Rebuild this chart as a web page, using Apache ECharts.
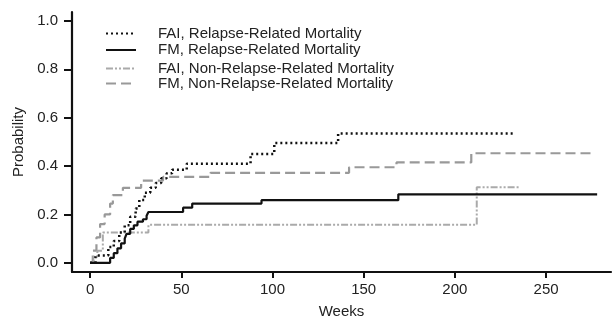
<!DOCTYPE html>
<html>
<head>
<meta charset="utf-8">
<script src="https://cdn.jsdelivr.net/npm/echarts@6/dist/echarts.min.js"></script>
<style>
  html, body { margin: 0; padding: 0; background: #fff; }
  #chart { width: 613px; height: 324px; }
</style>
</head>
<body>
<div id="chart"></div>
<script>
// series names
const names = [
    'FAI, Relapse-Related Mortality',
    'FM, Relapse-Related Mortality',
    'FAI, Non-Relapse-Related Mortality',
    'FM, Non-Relapse-Related Mortality'
]

// step curves: weeks where the level changes, and the new level
const faiRelWeeks = [0, 3, 10, 13, 16, 19, 22, 25, 27, 30, 33, 36, 39, 42, 45, 53, 88, 101, 136, 233]
const faiRelProb  = [0, 0.03, 0.065, 0.09, 0.125, 0.155, 0.19, 0.225, 0.26, 0.29, 0.31, 0.33, 0.35, 0.37, 0.385, 0.41, 0.45, 0.495, 0.535, 0.535]

const fmRelWeeks = [0, 11, 13, 15, 17, 19, 20, 22, 24, 26, 29, 31, 32, 51, 56, 94, 169, 278]
const fmRelProb  = [0, 0.02, 0.04, 0.06, 0.08, 0.1, 0.12, 0.14, 0.155, 0.17, 0.18, 0.195, 0.21, 0.228, 0.245, 0.259, 0.283, 0.283]

const faiNrmWeeks = [0, 2, 4, 7, 32, 212, 235]
const faiNrmProb  = [0, 0.025, 0.05, 0.125, 0.157, 0.312, 0.312]

const fmNrmWeeks = [0, 1.5, 3.5, 5.5, 8, 11, 12.5, 18, 28, 40, 66, 142, 168, 209, 277]
const fmNrmProb  = [0, 0.05, 0.105, 0.16, 0.2, 0.245, 0.28, 0.31, 0.34, 0.355, 0.372, 0.395, 0.415, 0.453, 0.453]

// tick labels
const xTicks = [0, 50, 100, 150, 200, 250]
const yTicks = [0, 0.2, 0.4, 0.6, 0.8, 1.0]

function pairs(w, p) {
    return w.map((v, i) => [v, p[i]])
}

const font = '"Liberation Sans", Arial, Helvetica, sans-serif'
const legendText = { fontFamily: font, fontSize: 15, color: '#222', padding: [0, 0, 0, 17] }

let myChart = echarts.init(document.getElementById('chart'))
let option = {
    animation: false,
    backgroundColor: '#fff',
    grid: { left: 72, right: 2, top: 12, bottom: 52 },
    legend: [
        {
            data: names.slice(0, 2),
            orient: 'vertical',
            left: 105, top: 21,
            padding: [5, 5, 5, 0],
            itemWidth: 30, itemHeight: 14, itemGap: 1.5,
            itemStyle: { opacity: 0 },
            textStyle: legendText
        },
        {
            data: names.slice(2, 4),
            orient: 'vertical',
            left: 105, top: 56,
            padding: [5, 5, 5, 0],
            itemWidth: 30, itemHeight: 14, itemGap: 0,
            itemStyle: { opacity: 0 },
            textStyle: legendText
        }
    ],
    xAxis: {
        type: 'value',
        min: -9.9, max: 285.6,
        name: 'Weeks',
        nameLocation: 'middle',
        nameGap: 32,
        nameTextStyle: { fontFamily: font, fontSize: 15, color: '#222' },
        axisLine: { onZero: false, lineStyle: { color: '#111', width: 2.2 } },
        axisTick: { customValues: xTicks, length: 6, lineStyle: { color: '#111', width: 2 } },
        axisLabel: { customValues: xTicks, margin: 10, fontFamily: font, fontSize: 15, color: '#222' },
        splitLine: { show: false }
    },
    yAxis: {
        type: 'value',
        min: -0.038, max: 1.037,
        name: 'Probability',
        nameLocation: 'middle',
        nameGap: 46,
        nameTextStyle: { fontFamily: font, fontSize: 15, color: '#222' },
        axisLine: { show: true, onZero: false, lineStyle: { color: '#111', width: 2.2 } },
        axisTick: { show: true, customValues: yTicks, length: 8, lineStyle: { color: '#111', width: 2 } },
        axisLabel: {
            customValues: yTicks, margin: 14, fontFamily: font, fontSize: 15, color: '#222',
            formatter: function(value) {
                return value.toFixed(1)
            }
        },
        splitLine: { show: false }
    },
    series: [
        {
            name: names[3], type: 'line', step: 'end', symbol: 'none',
            data: pairs(fmNrmWeeks, fmNrmProb),
            itemStyle: { color: '#999' },
            lineStyle: { color: '#999', width: 2.2, type: [10, 5] }
        },
        {
            name: names[2], type: 'line', step: 'end', symbol: 'none',
            data: pairs(faiNrmWeeks, faiNrmProb),
            itemStyle: { color: '#aaa' },
            lineStyle: { color: '#aaa', width: 2, type: [7, 2, 2, 2, 2, 2] }
        },
        {
            name: names[1], type: 'line', step: 'end', symbol: 'none',
            data: pairs(fmRelWeeks, fmRelProb),
            itemStyle: { color: '#111' },
            lineStyle: { color: '#111', width: 2.2, type: 'solid' }
        },
        {
            name: names[0], type: 'line', step: 'end', symbol: 'none',
            data: pairs(faiRelWeeks, faiRelProb),
            itemStyle: { color: '#111' },
            lineStyle: { color: '#111', width: 2.5, type: [2, 3] }
        }
    ]
}
myChart.setOption(option)
</script>
</body>
</html>
